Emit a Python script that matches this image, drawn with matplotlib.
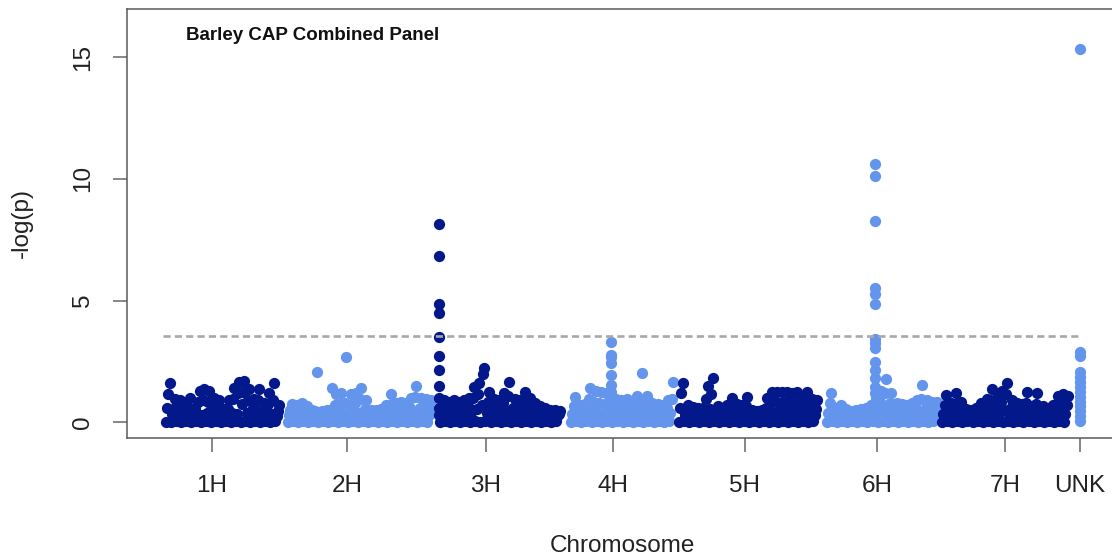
import matplotlib
matplotlib.use("Agg")
import matplotlib.pyplot as plt
import numpy as np

plt.rcParams["font.family"] = ["Liberation Sans", "DejaVu Sans"]

DARK = "#03188a"
LIGHT = "#6495ed"

# cumulative map position of each chromosome (first and last marker)
chrom_names = ["1H", "2H", "3H", "4H", "5H", "6H", "7H"]
chrom_start = [0, 122, 274, 405, 513, 661, 776]
chrom_end = [113, 265, 394, 507, 651, 771, 902]
unk_pos = 914

tick_labels = ["1H", "2H", "3H", "4H", "5H", "6H", "7H", "UNK"]
tick_pos = [46, 181, 320, 447, 579, 711, 839, 914]

threshold = 3.56

# -log(p) of markers, in map order along each chromosome
logp_1h = [
    0.03, 0.60, 1.15, 1.63, 0.00, 0.35, 0.55, 0.95, 0.05, 0.25, 0.50, 0.90,
    0.02, 0.30, 0.55, 0.80, 0.06, 0.35, 0.60, 1.00, 0.00, 0.25, 0.45, 0.60,
    0.04, 0.35, 0.85, 1.30, 0.01, 0.30, 0.90, 1.35, 0.05, 0.40, 0.85, 1.30,
    0.02, 0.30, 0.60, 1.00, 0.06, 0.35, 0.55, 0.90, 0.00, 0.25, 0.40, 0.55,
    0.04, 0.30, 0.55, 0.90, 0.01, 0.40, 0.95, 1.40, 0.05, 0.35, 1.20, 1.65,
    0.02, 0.75, 1.25, 1.70, 0.06, 0.40, 0.90, 1.35, 0.00, 0.30, 0.60, 0.95,
    0.04, 0.45, 0.90, 1.35, 0.01, 0.30, 0.50, 0.80, 0.05, 0.40, 0.75, 1.20,
    0.02, 0.35, 0.90, 1.60, 0.06, 0.25, 0.45, 0.70,
]
logp_2h = [
    0.02, 0.30, 0.50, 0.75, 0.05, 0.35, 0.50, 0.70, 0.00, 0.30, 0.55, 0.80,
    0.04, 0.25, 0.45, 0.65, 0.01, 0.30, 0.40, 0.50, 0.05, 0.25, 0.45, 2.08,
    0.02, 0.30, 0.40, 0.45, 0.06, 0.25, 0.35, 0.50, 0.00, 0.35, 0.50, 1.42,
    0.04, 0.30, 0.70, 1.15, 0.01, 0.40, 0.75, 1.20, 0.05, 0.35, 0.80, 2.67,
    0.02, 0.30, 0.70, 1.15, 0.06, 0.45, 0.80, 1.20, 0.00, 0.40, 0.95, 1.40,
    0.04, 0.30, 0.55, 0.90, 0.01, 0.25, 0.40, 0.50, 0.05, 0.30, 0.35, 0.50,
    0.02, 0.25, 0.40, 0.55, 0.06, 0.30, 0.50, 0.70, 0.00, 0.40, 0.70, 1.15,
    0.04, 0.30, 0.55, 0.80, 0.01, 0.35, 0.55, 0.85, 0.05, 0.25, 0.50, 0.80,
    0.02, 0.40, 0.60, 1.00, 0.06, 0.35, 1.05, 1.50, 0.00, 0.30, 0.60, 1.00,
    0.04, 0.35, 0.55, 0.95, 0.01, 0.30, 0.55, 0.90,
]
logp_3h = [
    0.02, 0.35, 0.55, 0.90, 0.05, 0.30, 0.55, 0.85, 0.00, 0.40, 0.60, 0.90,
    0.04, 0.30, 0.55, 0.85, 0.01, 0.35, 0.60, 0.90, 0.05, 0.40, 0.65, 1.00,
    0.02, 0.45, 1.00, 1.47, 0.06, 0.55, 1.15, 1.60, 0.00, 0.70, 2.00, 2.22,
    0.04, 0.40, 0.85, 1.26, 0.01, 0.35, 0.60, 0.95, 0.05, 0.30, 0.55, 0.90,
    0.02, 0.40, 0.80, 1.20, 0.06, 0.45, 1.10, 1.67, 0.00, 0.35, 0.60, 0.95,
    0.04, 0.30, 0.55, 0.90, 0.01, 0.40, 0.85, 1.26, 0.05, 0.35, 0.65, 1.00,
    0.02, 0.30, 0.50, 0.79, 0.06, 0.25, 0.45, 0.65, 0.00, 0.30, 0.45, 0.60,
    0.04, 0.25, 0.35, 0.50, 0.01, 0.30, 0.40, 0.50, 0.05, 0.25, 0.35, 0.45,
]
logp_4h = [
    0.02, 0.35, 0.65, 1.03, 0.05, 0.30, 0.50, 0.70, 0.00, 0.35, 0.50, 0.75,
    0.04, 0.40, 0.95, 1.42, 0.01, 0.45, 0.85, 1.30, 0.05, 0.40, 0.80, 1.25,
    0.02, 0.35, 0.75, 1.20, 0.06, 0.30, 0.55, 0.90, 0.00, 0.35, 0.60, 0.95,
    0.04, 0.30, 0.55, 0.90, 0.01, 0.40, 0.60, 0.95, 0.05, 0.30, 0.55, 0.85,
    0.02, 0.40, 0.70, 1.10, 0.06, 0.35, 0.75, 2.04, 0.00, 0.40, 0.70, 1.10,
    0.04, 0.30, 0.50, 0.80, 0.01, 0.25, 0.50, 0.75, 0.05, 0.30, 0.45, 0.70,
    0.02, 0.35, 0.60, 0.90, 0.06, 0.40, 0.95, 1.64,
]
logp_5h = [
    0.02, 0.60, 1.22, 1.60, 0.05, 0.30, 0.50, 0.70, 0.00, 0.35, 0.45, 0.64,
    0.04, 0.25, 0.45, 0.60, 0.01, 0.30, 0.45, 0.60, 0.05, 0.40, 0.95, 1.50,
    0.02, 0.55, 1.15, 1.81, 0.06, 0.30, 0.45, 0.65, 0.00, 0.25, 0.45, 0.60,
    0.04, 0.30, 0.50, 0.70, 0.01, 0.35, 0.60, 0.98, 0.05, 0.30, 0.50, 0.75,
    0.02, 0.25, 0.50, 0.70, 0.06, 0.35, 0.65, 1.05, 0.00, 0.25, 0.35, 0.50,
    0.04, 0.20, 0.30, 0.45, 0.01, 0.25, 0.35, 0.50, 0.05, 0.35, 0.60, 1.00,
    0.02, 0.45, 0.85, 1.26, 0.06, 0.40, 0.85, 1.26, 0.00, 0.45, 0.80, 1.25,
    0.04, 0.40, 0.85, 1.26, 0.01, 0.45, 0.80, 1.20, 0.05, 0.40, 0.80, 1.23,
    0.02, 0.35, 0.65, 1.00, 0.06, 0.45, 0.85, 1.26, 0.00, 0.35, 0.60, 0.95,
    0.04, 0.30, 0.55, 0.90,
]
logp_6h = [
    0.02, 0.40, 0.80, 1.22, 0.05, 0.30, 0.45, 0.60, 0.00, 0.30, 0.50, 0.71,
    0.04, 0.25, 0.40, 0.55, 0.01, 0.20, 0.35, 0.45, 0.05, 0.25, 0.35, 0.50,
    0.02, 0.30, 0.40, 0.55, 0.06, 0.25, 0.45, 0.60, 0.00, 0.30, 0.50, 0.70,
    0.04, 0.35, 0.65, 1.00, 0.01, 0.45, 0.85, 1.30, 0.05, 0.50, 1.20, 1.77,
    0.02, 0.40, 0.80, 1.20, 0.06, 0.30, 0.55, 0.80, 0.00, 0.30, 0.50, 0.75,
    0.04, 0.25, 0.50, 0.70, 0.01, 0.35, 0.55, 0.80, 0.05, 0.30, 0.60, 0.90,
    0.02, 0.40, 0.95, 1.53, 0.06, 0.35, 0.60, 0.90, 0.00, 0.30, 0.55, 0.85,
    0.04, 0.35, 0.55, 0.84,
]
logp_7h = [
    0.02, 0.35, 0.70, 1.12, 0.05, 0.30, 0.55, 0.80, 0.00, 0.40, 0.75, 1.19,
    0.04, 0.30, 0.55, 0.85, 0.01, 0.25, 0.40, 0.55, 0.05, 0.20, 0.35, 0.50,
    0.02, 0.30, 0.45, 0.60, 0.06, 0.30, 0.55, 0.80, 0.00, 0.35, 0.60, 0.95,
    0.04, 0.45, 0.90, 1.36, 0.01, 0.35, 0.65, 1.00, 0.05, 0.40, 0.85, 1.30,
    0.02, 0.50, 1.15, 1.63, 0.06, 0.35, 0.60, 0.90, 0.00, 0.30, 0.55, 0.80,
    0.04, 0.30, 0.50, 0.75, 0.01, 0.40, 0.80, 1.23, 0.05, 0.30, 0.45, 0.65,
    0.02, 0.40, 0.75, 1.20, 0.06, 0.30, 0.45, 0.65, 0.00, 0.25, 0.45, 0.60,
    0.04, 0.30, 0.50, 0.70, 0.01, 0.40, 0.70, 1.10, 0.05, 0.40, 0.75, 1.15,
    0.02, 0.35, 0.70, 1.10,
]
logp_unk = [15.33, 2.90, 2.72, 2.07, 1.85, 1.65, 1.45, 1.25, 1.05, 0.85,
            0.65, 0.45, 0.25, 0.05]

# tightly linked marker clusters (chromosome index, map position, -log(p))
peak_3h = [8.14, 6.83, 4.85, 4.50, 3.52, 2.74, 2.14, 1.50, 0.99, 0.60, 0.30]
peak_4h = [3.31, 2.77, 2.70, 2.42, 1.94, 1.53, 1.26]
peak_6h = [10.60, 10.12, 8.25, 5.50, 5.26, 4.85, 3.42, 3.25, 3.04, 2.49,
           2.15, 1.81, 1.47, 1.19]
peaks = [(2, 273, peak_3h), (3, 445, peak_4h), (5, 709, peak_6h)]

chrom_logp = [logp_1h, logp_2h, logp_3h, logp_4h, logp_5h, logp_6h, logp_7h]

fig = plt.figure(figsize=(11.12, 5.6), dpi=100)
ax = fig.add_axes([126.5 / 1112, 122 / 560, 985.5 / 1112, 429.5 / 560])

ms = 8.1
for i, vals in enumerate(chrom_logp):
    col = DARK if i % 2 == 0 else LIGHT
    x = np.linspace(chrom_start[i], chrom_end[i], len(vals))
    ax.plot(x, vals, "o", ms=ms, mew=0, color=col, clip_on=False)
    for ci, pos, pv in peaks:
        if ci == i:
            ax.plot(np.full(len(pv), pos), pv, "o", ms=ms, mew=0, color=col,
                    clip_on=False)

ax.plot(np.full(len(logp_unk), unk_pos), logp_unk, "o", ms=ms, mew=0,
        color=LIGHT, clip_on=False)

ax.hlines(threshold, chrom_start[0] - 3, unk_pos + 2, colors="#a8a8a8",
          linestyles=(0, (2.7, 1.6)), lw=1.9)

ax.set_xlim(-39.5, 946)
ax.set_ylim(-0.645, 17.0)

ax.set_xticks(tick_pos)
ax.set_xticklabels(tick_labels)
ax.set_yticks([0, 5, 10, 15])
ax.set_yticklabels(["0", "5", "10", "15"], rotation=90, va="center")

for side in ["left", "top", "bottom"]:
    ax.spines[side].set_color("#5a5a5a")
    ax.spines[side].set_linewidth(1.1)
ax.spines["right"].set_visible(False)

ax.tick_params(axis="both", length=10, width=1.1, color="#666666",
               labelsize=17.5, labelcolor="#222222")
ax.tick_params(axis="x", pad=16.4)
ax.tick_params(axis="y", pad=13.5)

ax.set_xlabel("Chromosome", fontsize=17.5, color="#222222", va="center")
ax.xaxis.set_label_coords(0.503, -0.252)
ax.set_ylabel("-log(p)", fontsize=17.5, color="#222222", va="center")
ax.yaxis.set_label_coords(-0.106, 0.5)

fig.text(185.5 / 1112, 1 - 39.5 / 560, "Barley CAP Combined Panel",
         fontsize=13.5, fontweight="bold", va="baseline", ha="left",
         color="#111111")

fig.savefig("out.png", dpi=100)
